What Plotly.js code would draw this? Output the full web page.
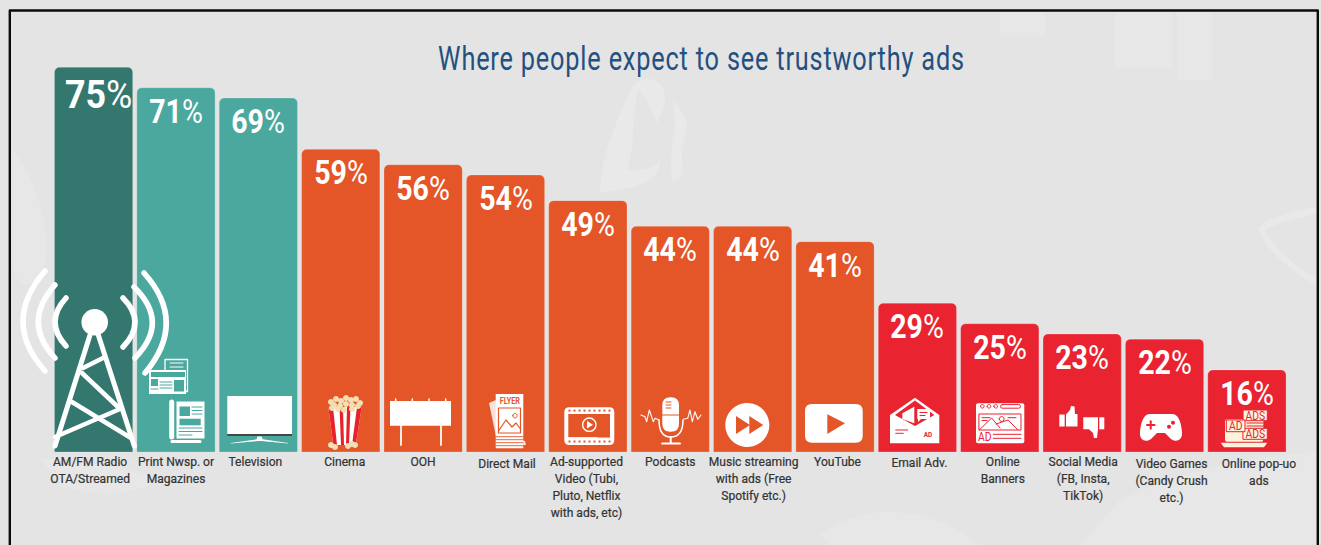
<!DOCTYPE html>
<html>
<head>
<meta charset="utf-8">
<script src="https://cdn.plot.ly/plotly-3.0.1.min.js"></script>
<style>
  html, body { margin: 0; padding: 0; background: #e4e4e4; }
  #chart { width: 1321px; height: 545px; }
  .shapelayer path { stroke-linecap: round; stroke-linejoin: round; }
  .gtitle { letter-spacing: 1.1px; }
  .xtick text { stroke: #333333; stroke-width: 0.22px; }
</style>
</head>
<body>
<div id="chart"></div>
<script>
// Survey results: share of people who expect trustworthy ads in each medium
const categories = [
  "AM/FM Radio<br>OTA/Streamed", "Print Nwsp. or<br>Magazines", "Television", "Cinema", "OOH",
  "Direct Mail", "Ad-supported<br>Video (Tubi,<br>Pluto, Netflix<br>with ads, etc)", "Podcasts",
  "Music streaming<br>with ads (Free<br>Spotify etc.)", "YouTube", "Email Adv.", "Online<br>Banners",
  "Social Media<br>(FB, Insta,<br>TikTok)", "Video Games<br>(Candy Crush<br>etc.)", "Online pop-uo<br>ads"
];
const trustPercent = [75, 71, 69, 59, 56, 54, 49, 44, 44, 41, 29, 25, 23, 22, 16];

const DARK_TEAL = "#33776f", TEAL = "#4aa89f", ORANGE = "#e45528", RED = "#e9232f";
const barColors = [DARK_TEAL, TEAL, TEAL, ORANGE, ORANGE, ORANGE, ORANGE, ORANGE, ORANGE, ORANGE, RED, RED, RED, RED, RED];

// Small per-label offsets (px) for the hand-set category captions
const captionNudgeX = [-3.5, 0, -3, 4, 0, 1.5, -1.4, 0, 1, 2.5, 2, 3, 1, 7, 12];
const captionNudgeY = [0, 0, 0, 0, 0, 2, 0, 0, 0, 0, 1, 0, 0, 2, 2];

const WIDTH = 1321, HEIGHT = 545, BASE = 452, PITCH = 82.38, FIRST = 93.6, PX_PER_PCT = 5.13;
const FACE = 'Roboto, "Liberation Sans", sans-serif';
const WHITE = "#ffffff", CREAM = "#f4dfb4", INK = "#fbf3dc", GHOST = "#e9e9e9", FAINT = "#e7e7e7";

// Icons are authored in canvas pixels, then anchored to their bar's category and the baseline.
function anchored(d, cat) {
  const cx = FIRST + cat * PITCH;
  let isX = true;
  return d.trim().split(/\s+/).map(tok => {
    if (/^[A-Za-z]$/.test(tok)) return tok;
    const v = parseFloat(tok);
    const out = isX ? v - cx : BASE - v;
    isX = !isX;
    return out.toFixed(2);
  }).join(" ");
}
const rect = (a, b, c, d) => `M ${a} ${b} L ${c} ${b} L ${c} ${d} L ${a} ${d} Z`;
const line = (...p) => "M " + p[0] + " " + p[1] + " " + p.slice(2).reduce((s, v, i) => s + (i % 2 ? ` ${v}` : ` L ${v}`), "");
const poly = (...p) => line(...p) + " Z";
function circle(x, y, r) {
  const k = 0.5523 * r;
  return `M ${x - r} ${y} C ${x - r} ${y - k} ${x - k} ${y - r} ${x} ${y - r} C ${x + k} ${y - r} ${x + r} ${y - k} ${x + r} ${y} ` +
         `C ${x + r} ${y + k} ${x + k} ${y + r} ${x} ${y + r} C ${x - k} ${y + r} ${x - r} ${y + k} ${x - r} ${y} Z`;
}
function round(a, b, c, d, r) {
  return `M ${a + r} ${b} L ${c - r} ${b} Q ${c} ${b} ${c} ${b + r} L ${c} ${d - r} Q ${c} ${d} ${c - r} ${d} ` +
         `L ${a + r} ${d} Q ${a} ${d} ${a} ${d - r} L ${a} ${b + r} Q ${a} ${b} ${a + r} ${b} Z`;
}
const solid = (d, fill) => ({ d, fill, w: 0 });
const stroke = (d, color, w) => ({ d, color, w });

const tower = [
  solid(circle(94.7, 322.3, 13.3), WHITE),
  stroke(line(90, 335, 55, 446), WHITE, 5), stroke(line(98.3, 335, 134.3, 446), WHITE, 5),
  stroke(line(83, 368, 105, 357), WHITE, 4.5), stroke(line(82, 373, 118, 407), WHITE, 4.5),
  stroke(line(72, 402, 131, 438), WHITE, 4.5), stroke(line(55, 437, 120, 409), WHITE, 4.5),
  stroke("M 66 298 Q 44 322 66 346", WHITE, 5.5), stroke("M 55 285 Q 21.6 322 55 358", WHITE, 5.5),
  stroke("M 45 271 Q 1 322 45 371", WHITE, 5.5), stroke("M 123 298 Q 147 322 123 347", WHITE, 5.5),
  stroke("M 134 287 Q 170 322 135 358", WHITE, 5.5), stroke("M 144 273 Q 188 322 145 373", WHITE, 5.5)
];
const papers = [
  stroke(rect(165, 359.5, 187.5, 391.5), WHITE, 1.3), stroke(line(170, 363, 183, 363), WHITE, 1), stroke(line(170, 367, 183, 367), WHITE, 1),
  solid(rect(149, 370, 186, 394), WHITE), solid(rect(151, 372, 185, 377), TEAL), solid(rect(151, 379, 158, 386), TEAL),
  solid(rect(174, 380, 184, 391.5), TEAL), stroke(line(160, 382, 172, 382), TEAL, 1), stroke(line(160, 385, 172, 385), TEAL, 1),
  stroke(line(160, 388, 172, 388), TEAL, 1), stroke(line(151, 389, 158, 389), TEAL, 1),
  stroke(line(171.7, 402, 171.7, 437), WHITE, 5), stroke(line(172, 441.5, 200, 441.5), WHITE, 3),
  solid(rect(176.5, 401.5, 204.5, 438.5), WHITE), solid(rect(179.5, 406.5, 190, 416), TEAL), solid(rect(179.5, 418.7, 200.7, 425.3), TEAL),
  stroke(line(192, 407, 202, 407), TEAL, 1), stroke(line(192, 410.5, 202, 410.5), TEAL, 1), stroke(line(192, 414, 202, 414), TEAL, 1),
  stroke(line(179, 428, 202, 428), TEAL, 1), stroke(line(179, 431.5, 202, 431.5), TEAL, 1), stroke(line(179, 435, 192, 435), TEAL, 1)
];
const screen = [
  solid(rect(227.3, 396, 292, 434), WHITE), solid(rect(227.3, 434, 292, 436), "#454545"),
  solid(poly(257.3, 436.5, 261.7, 436.5, 262.7, 439.3, 288.3, 443, 288.3, 443.6, 261, 441, 258, 441, 230.7, 443.6, 230.7, 443, 256.7, 439.3), WHITE)
];
const popcorn = [
  solid(poly(328.3, 407, 361.7, 407, 355.7, 445, 333.3, 445), WHITE),
  solid(poly(328.3, 407, 333, 407, 337, 445, 333.3, 445), "#e8222b"), solid(poly(339.5, 407, 343, 407, 344, 445, 341, 445), "#e8222b"),
  solid(poly(347, 407, 350.5, 407, 349, 445, 346, 445), "#e8222b"), solid(poly(357, 407, 361.7, 407, 355.7, 445, 352, 445), "#e8222b"),
  ...[[331, 402], [336, 399], [341, 401], [346, 398], [351, 400], [356, 399], [360, 403], [334, 405], [340, 406], [346, 404], [352, 405], [358, 406], [344, 410], [332, 408], [338, 409], [352, 409], [331, 445], [335, 447], [348, 446], [352, 444], [355, 445]]
    .map(p => solid(circle(p[0], p[1], 3), CREAM))
];
const billboard = [
  solid(rect(390, 401, 451, 425.7), WHITE), stroke(line(401, 425.7, 401, 445), WHITE, 1.8), stroke(line(441, 425.7, 441, 445), WHITE, 1.8),
  ...[395.7, 412.3, 429, 445.7].map(x => stroke(line(x, 399, x, 401), WHITE, 1.5))
];
const flyer = [
  solid(poly(489, 403, 496, 400, 500, 440, 497, 441), "#f7e3da"), solid(poly(520, 440, 525, 441, 526, 445, 522, 445), "#f7e3da"),
  solid(rect(495.7, 394, 523.3, 448.3), WHITE),
  stroke(rect(498.5, 408, 520.5, 433), ORANGE, 1.2), stroke(line(498.5, 431, 506, 420, 512, 427, 516, 423, 520.5, 429), ORANGE, 1.2),
  stroke(circle(515, 415.7, 2.2), ORANGE, 1),
  ...[436.7, 439.7, 442.7, 445.7].map(y => stroke(line(495.7, y, 523.3, y), ORANGE, 0.9))
];
const film = [
  solid(round(564.3, 407.3, 614.3, 445, 5), WHITE), solid(rect(568.3, 414, 610, 437.7), ORANGE),
  ...[0, 1, 2, 3, 4, 5, 6, 7, 8].map(i => solid(rect(568.5 + i * 5, 409.6, 570.5 + i * 5, 411.6), ORANGE)),
  ...[0, 1, 2, 3, 4, 5, 6, 7, 8].map(i => solid(rect(568.5 + i * 5, 440.5, 570.5 + i * 5, 442.5), ORANGE)),
  stroke(circle(589.3, 424.7, 6.7), WHITE, 1.4), solid(poly(587, 421, 587, 428.5, 593, 424.7), WHITE),
  stroke(line(568.3, 437.7, 598, 437.7), WHITE, 1), stroke(line(598, 437.7, 610, 437.7), "#bdbdbd", 1)
];
const mic = [
  solid(round(662.3, 397.3, 679, 431.7, 8), WHITE), stroke(line(662.3, 415, 679, 415), ORANGE, 1),
  stroke(line(666, 402, 671, 402), ORANGE, 1), stroke(line(666, 405, 671, 405), ORANGE, 1), stroke(line(666, 408, 671, 408), ORANGE, 1),
  stroke("M 659 420 Q 659 437 670.7 437 Q 683 437 683 420", WHITE, 1.5),
  stroke(line(670.7, 437, 670.7, 443), WHITE, 2), stroke(line(662, 443.4, 680, 443.4), WHITE, 2),
  stroke(line(641, 415, 645, 416.7, 646.7, 421.7, 649.3, 410, 653.3, 421.7, 655, 418.3, 659, 420), WHITE, 1.1),
  stroke(line(683.3, 419.3, 687.7, 418.3, 690, 410, 692.3, 421.7, 695, 411.7, 697.7, 419.3, 701, 415), WHITE, 1.1)
];
const forward = [
  solid(circle(747.3, 425, 22), WHITE),
  solid(poly(736, 416, 750, 425, 736, 434), ORANGE), solid(poly(749.3, 416, 763.3, 425, 749.3, 434), ORANGE)
];
const player = [
  solid(round(805, 404, 862.7, 442.7, 7), WHITE), solid(poly(827.3, 414.3, 845, 423.3, 827.3, 434), ORANGE)
];
const envelope = [
  solid(poly(890, 415, 915, 397.7, 939.3, 415, 939.3, 443.3, 890, 443.3), WHITE),
  solid(poly(895, 415, 915, 400.5, 934.3, 415, 915, 426), RED),
  solid(poly(902.3, 413.3, 914.3, 406.7, 914.3, 423.3, 902.3, 419), WHITE),
  solid(poly(917.3, 409, 930, 409, 930, 419, 921, 419, 918, 422, 918, 419, 917.3, 419), WHITE),
  stroke(line(920, 412.5, 927, 412.5), RED, 1), stroke(line(920, 415.5, 925, 415.5), RED, 1),
  stroke(line(895.7, 430, 907.7, 430), RED, 1), stroke(line(895.7, 433.3, 903.3, 433.3), RED, 1)
];
const browser = [
  solid(round(976, 403.3, 1024.3, 443.3, 2), WHITE),
  stroke(circle(982.3, 406.3, 1.8), RED, 1), stroke(circle(989, 406.3, 1.8), RED, 1), stroke(circle(995.7, 406.3, 1.8), RED, 1),
  stroke(round(1000.5, 404.6, 1020.5, 408.2, 1.8), RED, 1),
  stroke(rect(979.3, 414, 1021, 430), RED, 1), stroke(line(979.3, 430, 991.7, 418, 1000, 428), RED, 1),
  stroke(line(996, 424, 1008, 420, 1018, 430), RED, 1), stroke(circle(1001.7, 419, 2.4), RED, 1),
  stroke(line(982, 417.7, 990, 417.7), RED, 1), stroke(line(982, 420.5, 987, 420.5), RED, 1), stroke(line(1008, 417.7, 1016, 417.7), RED, 1),
  stroke(line(993.3, 434.3, 1021, 434.3), RED, 1), stroke(line(993.3, 438.3, 1021, 438.3), RED, 1)
];
const thumbs = [
  solid(rect(1059.3, 414.5, 1064.7, 426.5), WHITE),
  solid(poly(1066, 414.5, 1070, 410, 1071, 406, 1074.5, 406.5, 1075, 414, 1077.5, 414, 1077.5, 426.5, 1066, 426.5), WHITE),
  solid(rect(1099.3, 417.3, 1104.3, 429.3), WHITE),
  solid(poly(1083.3, 417.3, 1098, 417.3, 1098, 429.3, 1097, 438, 1094, 438, 1093, 433, 1089, 429.3, 1083.3, 429.3), WHITE)
];
const gamepad = [
  solid("M 1150 414 L 1172 414 C 1178 414 1181 421 1182 432 C 1183 440 1176 443 1171 439 L 1165 433 L 1157 433 L 1151 439 C 1146 443 1139 440 1140 432 C 1141 421 1144 414 1150 414 Z", WHITE),
  stroke(line(1147, 425, 1154.5, 425), RED, 2), stroke(line(1150.7, 421.3, 1150.7, 428.7), RED, 2),
  solid(circle(1173, 422.7, 2), RED), solid(circle(1169, 426.7, 2), RED)
];
const laptop = [
  solid(round(1225, 419.3, 1263.3, 441.7, 2), INK), solid(poly(1220.7, 442.7, 1267.3, 442.7, 1264, 447.3, 1224, 447.3), INK),
  { d: rect(1243.3, 410, 1267.3, 420.7), fill: INK, color: RED, w: 1 },
  { d: rect(1243.3, 428.3, 1267.3, 439.3), fill: INK, color: RED, w: 1 },
  { d: rect(1226.7, 420, 1245, 431.7), fill: INK, color: RED, w: 1 },
  stroke(line(1247, 423, 1263, 423), RED, 1), stroke(line(1247, 426, 1263, 426), RED, 1)
];
const iconSet = [
  [0, tower], [1, papers], [2, screen], [3, popcorn], [4, billboard], [5, flyer], [6, film], [7, mic],
  [8, forward], [9, player], [10, envelope], [11, browser], [12, thumbs], [13, gamepad], [14, laptop]
];

// Pale watermark behind the chart, in canvas pixels mapped onto the paper
function onPaper(d) {
  let isX = true;
  return d.trim().split(/\s+/).map(tok => {
    if (/^[A-Za-z]$/.test(tok)) return tok;
    const v = parseFloat(tok);
    const out = isX ? v / WIDTH : 1 - v / BASE;
    isX = !isX;
    return out.toFixed(5);
  }).join(" ");
}
const watermark = [
  [GHOST, "M 600 193 C 601 160 612 130 632 87 C 640 76 655 76 662 87 C 668 97 665 108 657 123 C 650 105 645 95 638 90 C 631 115 636 145 627 170 C 640 172 655 168 660 160 C 660 175 650 185 617 190 Z"],
  [GHOST, "M 673 100 C 680 108 687 118 687 127 C 684 140 680 147 683 173 C 680 180 675 182 672 180 C 670 160 672 140 675 127 Z"],
  [FAINT, rect(1115, 12, 1172, 68)], [FAINT, rect(1177, 12, 1212, 80)], [FAINT, rect(1000, 12, 1045, 35)],
  [GHOST, "M 1317 207 C 1290 212 1268 218 1258 228 C 1265 250 1290 270 1317 286 L 1317 279 C 1295 266 1275 250 1265 230 C 1278 222 1298 218 1317 214 Z"],
  [FAINT, "M 13 150 C 35 180 50 220 45 265 C 35 290 20 290 13 270 Z"],
  [FAINT, "M 40 458 C 90 462 140 470 160 480 C 130 498 90 495 60 485 Z"],
  [FAINT, "M 1120 500 C 1180 470 1260 455 1317 452 L 1317 545 L 1080 545 Z"],
  [FAINT, "M 820 535 C 860 505 920 500 980 545 L 830 545 Z"]
];
const watermarkShapes = watermark.map(([fill, d]) => ({
  type: "path", layer: "below", xref: "paper", yref: "paper", path: onPaper(d), fillcolor: fill, line: { width: 0 }
}));

const frame = [
  { type: "rect", xref: "paper", yref: "paper", x0: 9.8 / WIDTH, x1: 1317.8 / WIDTH, y0: -0.3, y1: 1 - 10.5 / BASE,
    line: { color: "#0b0b0b", width: 2.4 }, fillcolor: "rgba(0,0,0,0)", layer: "below" }
];
const iconShapes = iconSet.flatMap(([cat, parts]) => parts.map(p => ({
  type: "path", layer: "above", xref: "x", yref: "y", xsizemode: "pixel", ysizemode: "pixel",
  xanchor: cat, yanchor: 0, path: anchored(p.d, cat),
  fillcolor: p.fill || "rgba(0,0,0,0)",
  line: { color: p.color || "rgba(0,0,0,0)", width: p.w }
})));

// Value labels sit just under the top of each bar
const valueLabels = trustPercent.map((v, i) => {
  const lead = i === 0;
  return {
    x: i, y: v, xref: "x", yref: "y", yanchor: "top", xanchor: "center", showarrow: false,
    xshift: lead ? 5 : 0, yshift: lead ? -3 : -1,
    text: `<b>${v}</b>%`, font: { family: FACE, size: lead ? 39 : 34, color: WHITE }
  };
});

// Lettering that belongs to the icons
const inkText = (x, y, text, size, color, bold) => ({
  xref: "paper", yref: "paper", x: x / WIDTH, y: 1 - y / BASE, xanchor: "center", yanchor: "middle", showarrow: false,
  text: bold ? `<b>${text}</b>` : text, font: { family: FACE, size, color }
});
const iconText = [
  inkText(509.5, 401, "FLYER", 8.5, ORANGE, true), inkText(928.3, 434, "AD", 7.5, RED, true), inkText(985, 436.5, "AD", 12, RED, false),
  inkText(1255.3, 415.5, "ADS", 12, RED, false), inkText(1255.3, 434, "ADS", 12, RED, false), inkText(1236, 426, "AD", 12, RED, false)
];

const trace = {
  type: "bar", x: categories, y: trustPercent, hoverinfo: "skip",
  marker: { color: barColors, line: { width: 1, color: "rgba(255,255,255,0.22)" } }
};

const layout = {
  width: WIDTH, height: HEIGHT, margin: { l: 0, r: 0, t: 0, b: HEIGHT - BASE, pad: 0 },
  paper_bgcolor: "#e4e4e4", plot_bgcolor: "rgba(0,0,0,0)", bargap: 0.05, barcornerradius: 5, showlegend: false,
  title: { text: "Where people expect to see trustworthy ads", x: 701.5 / WIDTH, xanchor: "center", y: 1 - 58 / HEIGHT, yanchor: "middle",
           font: { family: FACE, size: 34, color: "#23507f" } },
  xaxis: { type: "category", categoryorder: "array", categoryarray: categories, range: [-FIRST / PITCH, (WIDTH - FIRST) / PITCH],
           showgrid: false, zeroline: false, showline: false, ticks: "", ticklabelstandoff: 0, tickangle: 0,
           tickfont: { family: FACE, size: 13, color: "#333333" }, fixedrange: true },
  yaxis: { range: [0, BASE / PX_PER_PCT], visible: false, fixedrange: true },
  shapes: [...watermarkShapes, ...frame, ...iconShapes],
  annotations: [...valueLabels, ...iconText]
};

// No condensed face is available, so the lettering is narrowed horizontally around its own centre
function condense(el, sx, dx = 0, dy = 0) {
  const box = el.getBBox();
  const cx = box.x + box.width / 2;
  const prior = el.getAttribute("transform") || "";
  el.setAttribute("transform", `${prior} translate(${cx + dx} ${dy}) scale(${sx} 1) translate(${-cx} 0)`);
}

Plotly.newPlot("chart", [trace], layout, { displayModeBar: false, staticPlot: true }).then(gd => {
  const title = gd.querySelector(".gtitle");
  condense(title, 527 / title.getBBox().width);
  gd.querySelectorAll(".xtick text").forEach(el => {
    const i = categories.indexOf(el.getAttribute("data-unformatted"));
    condense(el, 0.93, captionNudgeX[i] || 0, captionNudgeY[i] || 0);
  });
  gd.querySelectorAll(".annotation-text").forEach(el => {
    const isValue = el.textContent.includes("%");
    const isLead = el.textContent === trustPercent[0] + "%";
    condense(el, isLead ? 0.92 : isValue ? 0.84 : 0.86);
  });
});
</script>
</body>
</html>
